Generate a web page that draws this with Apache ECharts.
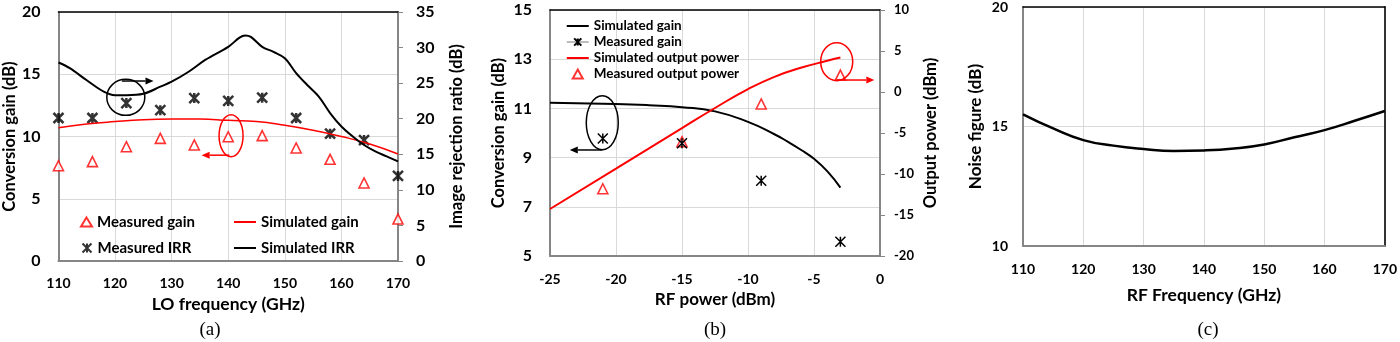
<!DOCTYPE html>
<html>
<head>
<meta charset="utf-8">
<script src="https://cdn.jsdelivr.net/npm/echarts@6/dist/echarts.min.js"></script>
<style>
  html, body { margin: 0; padding: 0; background: #fff; }
  .panel { position: absolute; left: 0; top: 0; width: 1400px; height: 342px; }
</style>
</head>
<body>
<div id="chartA" class="panel"></div>
<div id="chartB" class="panel"></div>
<div id="chartC" class="panel"></div>
<script>
// (a) LO frequency sweep
const loFreq = [110, 116, 122, 128, 134, 140, 146, 152, 158, 164, 170];
const measGainA = [7.65, 7.98, 9.18, 9.85, 9.32, 9.98, 10.07, 9.08, 8.17, 6.27, 3.37];
const measIrr = [20.1, 20.1, 22.2, 21.2, 22.9, 22.5, 22.95, 20.1, 17.9, 17.0, 11.95];
const simGainFreq = [110, 115, 120, 125, 130, 135, 140, 145, 150, 155, 160, 165, 170];
const simGainA = [10.7, 11.0, 11.2, 11.35, 11.4, 11.4, 11.3, 11.2, 10.9, 10.5, 10.0, 9.4, 8.6];
const simIrrFreq = [110, 112, 115, 118, 120, 122, 125, 128, 130, 133, 136, 140, 142, 143, 144, 146, 148, 150, 152, 154, 156, 158, 160, 162, 164, 166, 168, 170];
const simIrr = [27.9, 27.1, 25.4, 23.8, 23.3, 23.3, 23.5, 24.5, 25.2, 26.6, 28.3, 30.1, 31.4, 31.7, 31.5, 30.1, 29.4, 28.5, 26.4, 24.7, 23.1, 20.8, 18.9, 17.5, 16.3, 15.4, 14.7, 14.0];

// (b) RF power sweep
const rfPower = [-21, -15, -9, -3];
const measGainB = [9.78, 9.58, 8.06, 5.58];
const measPout = [-11.8, -6.06, -1.46, 2.07];
const simGainPin = [-25, -20, -17.5, -15, -12.5, -10, -8, -7, -6, -5, -4, -3];
const simGainB = [11.23, 11.18, 11.13, 11.05, 10.88, 10.45, 9.95, 9.65, 9.32, 8.95, 8.45, 7.78];
const simPoutPin = [-25, -20, -15, -12.5, -10, -8, -6, -4, -3];
const simPout = [-14.27, -9.35, -4.4, -1.95, 0.35, 1.85, 2.95, 3.8, 4.2];

// (c) noise figure
const nfFreq = [110, 115, 120, 125, 130, 135, 140, 145, 150, 155, 160, 165, 170];
const nf = [15.51, 14.92, 14.43, 14.2, 14.06, 13.98, 14.0, 14.08, 14.25, 14.55, 14.85, 15.24, 15.65];

// callout anchors [x, y] in data units
const calloutA = { irrCircle: [121.9, 23.0], irrArrow: [[121.2, 25.3], [126.8, 25.3]],
                   gainCircle: [140.5, 10.06], gainArrow: [[140.2, 8.5], [135.3, 8.5]] };
const calloutB = { gainCircle: [-21.04, 10.42], gainArrow: [[-21.04, 9.31], [-23.5, 9.31]],
                   poutCircle: [-3.28, 3.7], poutArrow: [[-3.28, 1.46], [-0.43, 1.46]] };

const FONT = 'Lato';
const RED = '#ff0000';
const GRIDC = '#d9d9d9';
const AXISC = '#868686';
const starPath = 'path://M0,0L10,10M10,0L0,10M5,0L5,10';
const lineIcon = 'path://M0,0H22V2H0Z';
const triIcon = 'path://M5,0L10,9L0,9Z';

const pairs = (xs, ys) => xs.map((x, i) => [x, ys[i]]);
const lab = (size, extra) => Object.assign({ color: '#000', fontFamily: FONT, fontWeight: 'bold', fontSize: size }, extra || {});

const topAxis = (min, max) => ({
    type: 'value', min: min, max: max, position: 'top',
    axisLine: { onZero: false, lineStyle: { color: '#000', width: 1.5 } },
    axisTick: { show: false }, axisLabel: { show: false }, splitLine: { show: false }
});

function ellipse(chart, yIdx, pt, rx, ry, color) {
    const p = chart.convertToPixel({ xAxisIndex: 0, yAxisIndex: yIdx }, pt);
    return { type: 'ellipse', z: 100, shape: { cx: p[0], cy: p[1], rx: rx, ry: ry },
             style: { fill: 'none', stroke: color, lineWidth: 1.5 } };
}

function arrow(chart, yIdx, seg, color) {
    const a = chart.convertToPixel({ xAxisIndex: 0, yAxisIndex: yIdx }, seg[0]);
    const b = chart.convertToPixel({ xAxisIndex: 0, yAxisIndex: yIdx }, seg[1]);
    const len = Math.hypot(b[0] - a[0], b[1] - a[1]);
    const dx = (b[0] - a[0]) / len, dy = (b[1] - a[1]) / len;
    const h = 8, w = 3.5;
    const base = [b[0] - dx * h, b[1] - dy * h];
    return [
        { type: 'line', z: 100, shape: { x1: a[0], y1: a[1], x2: base[0], y2: base[1] },
          style: { stroke: color, lineWidth: 1.5 } },
        { type: 'polygon', z: 100,
          shape: { points: [b, [base[0] - dy * w, base[1] + dx * w], [base[0] + dy * w, base[1] - dx * w]] },
          style: { fill: color } }
    ];
}

function panelLabel(text, x) {
    return { type: 'text', z: 100, style: { text: text, x: x, y: 330, fill: '#000',
             font: '19px "Liberation Serif"', textAlign: 'center', textVerticalAlign: 'middle',
             align: 'center', verticalAlign: 'middle' } };
}

// ---------- (a) ----------
const chartA = echarts.init(document.getElementById('chartA'));
const legA = (item, left, top, w, h) => ({
    data: [item], left: left, top: top, padding: 0, itemWidth: w, itemHeight: h,
    symbolKeepAspect: true, textStyle: lab(15, { lineHeight: 16 })
});
chartA.setOption({
    animation: false,
    backgroundColor: 'transparent',
    grid: { left: 56, top: 12, width: 342, height: 249 },
    legend: [
        legA('Measured gain', 80, 214, 11, 9),
        legA({ name: 'Simulated gain', icon: lineIcon }, 234, 214, 22, 11),
        legA('Measured IRR', 80, 240, 11, 9),
        legA({ name: 'Simulated IRR', icon: lineIcon }, 234, 240, 22, 11)
    ],
    xAxis: [
        {
            type: 'value', min: 110, max: 170, interval: 10,
            axisLine: { onZero: false, lineStyle: { color: AXISC, width: 2 } },
            axisTick: { show: false },
            axisLabel: Object.assign(lab(14), { margin: 15 }),
            splitLine: { lineStyle: { color: GRIDC } },
            name: 'LO frequency (GHz)', nameLocation: 'middle', nameGap: 34, nameTextStyle: lab(17.5)
        },
        topAxis(110, 170)
    ],
    yAxis: [
        {
            type: 'value', min: 0, max: 20, interval: 5,
            axisLine: { show: true, onZero: false, lineStyle: { color: AXISC, width: 2 } },
            axisTick: { show: false },
            axisLabel: Object.assign(lab(16), { margin: 18 }),
            splitLine: { lineStyle: { color: GRIDC } },
            name: 'Conversion gain (dB)', nameLocation: 'middle', nameGap: 38, nameTextStyle: lab(16.5)
        },
        {
            type: 'value', min: 0, max: 35, interval: 5, position: 'right',
            axisLine: { show: true, onZero: false, lineStyle: { color: AXISC, width: 2 } },
            axisTick: { show: true, length: 5, lineStyle: { color: AXISC } },
            axisLabel: Object.assign(lab(16), { margin: 18 }),
            splitLine: { show: false },
            name: 'Image rejection ratio (dB)', nameLocation: 'middle', nameGap: 50, nameTextStyle: lab(16.5)
        }
    ],
    series: [
        { name: 'Simulated gain', type: 'line', yAxisIndex: 0, data: pairs(simGainFreq, simGainA),
          smooth: true, symbol: 'none', lineStyle: { color: RED, width: 1.5 }, itemStyle: { color: RED } },
        { name: 'Simulated IRR', type: 'line', yAxisIndex: 1, data: pairs(simIrrFreq, simIrr),
          smooth: 0.35, symbol: 'none', lineStyle: { color: '#000', width: 2 }, itemStyle: { color: '#000' } },
        { name: 'Measured gain', type: 'scatter', yAxisIndex: 0, data: pairs(loFreq, measGainA),
          symbol: 'triangle', symbolSize: 10, itemStyle: { color: '#fff', borderColor: RED, borderWidth: 1.6 } },
        { name: 'Measured IRR', type: 'scatter', yAxisIndex: 1, data: pairs(loFreq, measIrr),
          symbol: starPath, symbolSize: 10, itemStyle: { color: 'none', borderColor: '#000', borderWidth: 2.5 } }
    ]
});
chartA.setOption({
    graphic: [
        ellipse(chartA, 1, calloutA.irrCircle, 19, 18, '#000'),
        ...arrow(chartA, 1, calloutA.irrArrow, '#000'),
        ellipse(chartA, 0, calloutA.gainCircle, 12, 21, RED),
        ...arrow(chartA, 0, calloutA.gainArrow, RED),
        panelLabel('(a)', 210)
    ]
});

// ---------- (b) ----------
const chartB = echarts.init(document.getElementById('chartB'));
chartB.setOption({
    animation: false,
    backgroundColor: 'transparent',
    grid: { left: 550, top: 10, width: 330, height: 246 },
    legend: {
        orient: 'vertical', left: 566, top: 19, padding: 0, itemGap: 2,
        itemWidth: 22, itemHeight: 9, symbolKeepAspect: true,
        textStyle: lab(13.5, { lineHeight: 14 }),
        data: [
            { name: 'Simulated gain', icon: lineIcon },
            { name: 'Measured gain', lineStyle: { color: '#a6a6a6', width: 1.5 } },
            { name: 'Simulated output power', icon: lineIcon },
            { name: 'Measured output power', icon: triIcon }
        ]
    },
    xAxis: [
        {
            type: 'value', min: -25, max: 0, interval: 5,
            axisLine: { onZero: false, lineStyle: { color: AXISC, width: 2 } },
            axisTick: { show: false },
            axisLabel: Object.assign(lab(14), { margin: 16 }),
            splitLine: { lineStyle: { color: GRIDC } },
            name: 'RF power (dBm)', nameLocation: 'middle', nameGap: 32, nameTextStyle: lab(17)
        },
        topAxis(-25, 0)
    ],
    yAxis: [
        {
            type: 'value', min: 5, max: 15, interval: 2,
            axisLine: { show: true, onZero: false, lineStyle: { color: AXISC, width: 2 } },
            axisTick: { show: false },
            axisLabel: Object.assign(lab(16), { margin: 18 }),
            splitLine: { lineStyle: { color: GRIDC } },
            name: 'Conversion gain (dB)', nameLocation: 'middle', nameGap: 43, nameTextStyle: lab(16.5)
        },
        {
            type: 'value', min: -20, max: 10, interval: 5, position: 'right',
            axisLine: { show: true, onZero: false, lineStyle: { color: AXISC, width: 2 } },
            axisTick: { show: true, length: 5, lineStyle: { color: AXISC } },
            axisLabel: Object.assign(lab(13), { margin: 14 }),
            splitLine: { show: false },
            name: 'Output power (dBm)', nameLocation: 'middle', nameGap: 42, nameTextStyle: lab(16.5)
        }
    ],
    series: [
        { name: 'Simulated gain', type: 'line', yAxisIndex: 0, data: pairs(simGainPin, simGainB),
          smooth: true, symbol: 'none', lineStyle: { color: '#000', width: 2 }, itemStyle: { color: '#000' } },
        { name: 'Measured gain', type: 'line', yAxisIndex: 0, data: pairs(rfPower, measGainB),
          symbol: starPath, symbolSize: 10, lineStyle: { width: 0 },
          itemStyle: { color: 'none', borderColor: '#000', borderWidth: 1.5 } },
        { name: 'Simulated output power', type: 'line', yAxisIndex: 1, data: pairs(simPoutPin, simPout),
          smooth: true, symbol: 'none', lineStyle: { color: RED, width: 2 }, itemStyle: { color: RED } },
        { name: 'Measured output power', type: 'scatter', yAxisIndex: 1, data: pairs(rfPower, measPout),
          symbol: 'triangle', symbolSize: 10, itemStyle: { color: '#fff', borderColor: RED, borderWidth: 1.6 } }
    ]
});
chartB.setOption({
    graphic: [
        ellipse(chartB, 0, calloutB.gainCircle, 16, 27, '#000'),
        ...arrow(chartB, 0, calloutB.gainArrow, '#000'),
        ellipse(chartB, 1, calloutB.poutCircle, 16, 19, RED),
        ...arrow(chartB, 1, calloutB.poutArrow, RED),
        panelLabel('(b)', 715)
    ]
});

// ---------- (c) ----------
const chartC = echarts.init(document.getElementById('chartC'));
chartC.setOption({
    animation: false,
    backgroundColor: 'transparent',
    grid: { left: 1023, top: 7, width: 362, height: 239 },
    xAxis: [
        {
            type: 'value', min: 110, max: 170, interval: 10,
            axisLine: { onZero: false, lineStyle: { color: AXISC, width: 2 } },
            axisTick: { show: false },
            axisLabel: Object.assign(lab(14), { margin: 16 }),
            splitLine: { lineStyle: { color: GRIDC } },
            name: 'RF Frequency (GHz)', nameLocation: 'middle', nameGap: 40, nameTextStyle: lab(17.5)
        },
        topAxis(110, 170)
    ],
    yAxis: [
        {
            type: 'value', min: 10, max: 20, interval: 5,
            axisLine: { show: true, onZero: false, lineStyle: { color: AXISC, width: 2 } },
            axisTick: { show: false },
            axisLabel: Object.assign(lab(14), { margin: 15 }),
            splitLine: { lineStyle: { color: GRIDC } },
            name: 'Noise figure (dB)', nameLocation: 'middle', nameGap: 39, nameTextStyle: lab(17)
        },
        {
            type: 'value', min: 10, max: 20, position: 'right',
            axisLine: { show: true, onZero: false, lineStyle: { color: '#333', width: 2 } },
            axisTick: { show: false }, axisLabel: { show: false }, splitLine: { show: false }
        }
    ],
    series: [
        { name: 'Noise figure', type: 'line', data: pairs(nfFreq, nf), smooth: true, symbol: 'none',
          lineStyle: { color: '#000', width: 2.5 } }
    ],
    graphic: [panelLabel('(c)', 1208)]
});
</script>
</body>
</html>
